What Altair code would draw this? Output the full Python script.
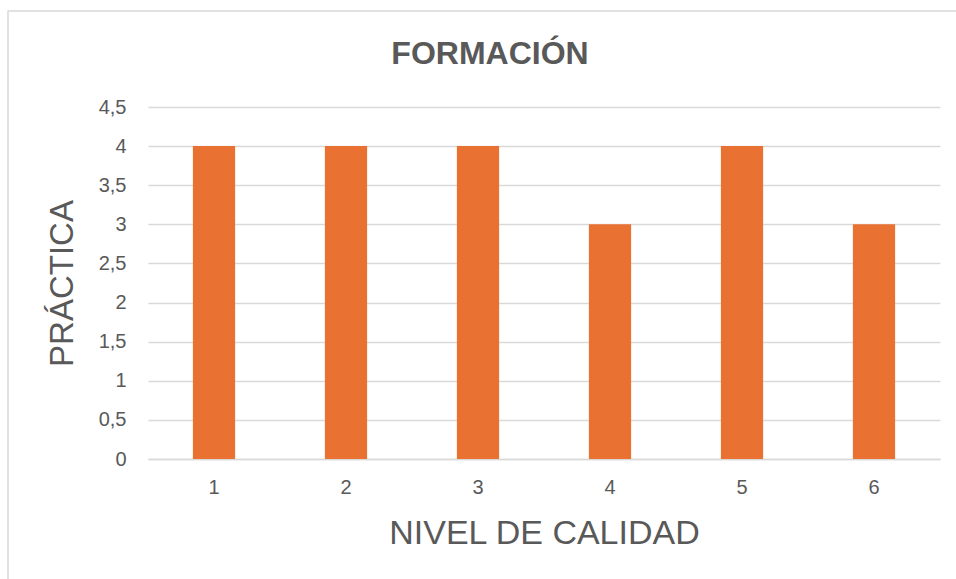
import altair as alt
import pandas as pd

niveles = ["1", "2", "3", "4", "5", "6"]
practica = [4, 4, 4, 3, 4, 3]
y_ticks = [0, 0.5, 1, 1.5, 2, 2.5, 3, 3.5, 4, 4.5]
titulo = "FORMACIÓN"

df = pd.DataFrame({"nivel": niveles, "practica": practica})

gray = "#595959"
font = "Liberation Sans"

bars = alt.Chart(df).mark_bar(color="#E97132").encode(
    x=alt.X("nivel:N", sort=niveles,
            scale=alt.Scale(paddingInner=0.68, paddingOuter=0.34),
            axis=alt.Axis(title="NIVEL DE CALIDAD", labelAngle=0, ticks=False,
                          domainColor="#D9D9D9", domainWidth=1.5,
                          labelFontSize=20, labelColor=gray, labelFont=font,
                          labelPadding=18,
                          titleFontSize=34, titleColor=gray, titleFont=font,
                          titleFontWeight="normal", titleBaseline="alphabetic",
                          titleY=84)),
    y=alt.Y("practica:Q", scale=alt.Scale(domain=[0, 4.5], nice=False),
            axis=alt.Axis(title="PRÁCTICA", values=y_ticks, format=",.1~f",
                          formatType="number",
                          labelExpr="replace(datum.label, '.', ',')",
                          ticks=False, domain=False,
                          gridColor="#D9D9D9", gridWidth=1.5,
                          labelFontSize=20, labelColor=gray, labelFont=font,
                          labelPadding=22,
                          titleFontSize=33, titleColor=gray, titleFont=font,
                          titleFontWeight="normal", titleBaseline="alphabetic",
                          titleX=-76)),
)

border = alt.Chart(pd.DataFrame({"a": [0]})).mark_rect(
    fill=None, stroke="#D9D9D9", strokeWidth=1.5
).encode(x=alt.value(-140), x2=alt.value(900), y=alt.value(-96), y2=alt.value(600))

title_mark = alt.Chart(pd.DataFrame({"t": [titulo]})).mark_text(
    fontSize=32, color=gray, font=font, fontWeight="bold",
    align="center", baseline="alphabetic"
).encode(text="t:N", x=alt.value(342), y=alt.value(-43))

chart = alt.layer(border, bars, title_mark).properties(
    width=792, height=352,
    padding={"left": 148, "top": 107, "right": 16, "bottom": 120},
    autosize=alt.AutoSizeParams(type="none"),
).configure_view(stroke=None)

chart.save("out.html", embed_options={"renderer": "svg", "actions": False})
